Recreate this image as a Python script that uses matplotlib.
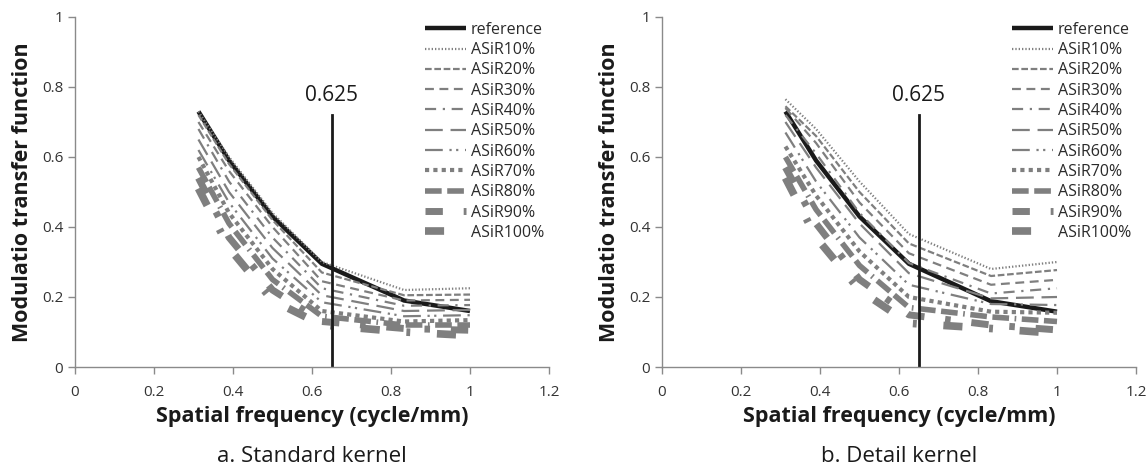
import matplotlib
matplotlib.use("Agg")
import matplotlib.pyplot as plt

plt.rcParams['font.family'] = ['Open Sans', 'DejaVu Sans']

freq = [0.3125, 0.39, 0.5, 0.625, 0.833, 1.0]
series_names = ["reference", "ASiR10%", "ASiR20%", "ASiR30%", "ASiR40%", "ASiR50%",
                "ASiR60%", "ASiR70%", "ASiR80%", "ASiR90%", "ASiR100%"]

standard_ref = [0.73, 0.59, 0.43, 0.295, 0.19, 0.16]
standard_10 = [0.73, 0.60, 0.44, 0.30, 0.22, 0.225]
standard_20 = [0.72, 0.58, 0.42, 0.27, 0.205, 0.207]
standard_30 = [0.70, 0.56, 0.40, 0.245, 0.19, 0.192]
standard_40 = [0.68, 0.53, 0.37, 0.225, 0.175, 0.177]
standard_50 = [0.65, 0.50, 0.34, 0.205, 0.16, 0.163]
standard_60 = [0.62, 0.47, 0.31, 0.185, 0.145, 0.148]
standard_70 = [0.60, 0.44, 0.28, 0.16, 0.13, 0.134]
standard_80 = [0.57, 0.41, 0.25, 0.145, 0.12, 0.12]
standard_90 = [0.54, 0.37, 0.22, 0.13, 0.11, 0.105]
standard_100 = [0.51, 0.34, 0.19, 0.12, 0.10, 0.09]

detail_ref = [0.73, 0.59, 0.43, 0.295, 0.188, 0.158]
detail_10 = [0.765, 0.68, 0.53, 0.38, 0.28, 0.30]
detail_20 = [0.745, 0.66, 0.50, 0.353, 0.26, 0.277]
detail_30 = [0.74, 0.64, 0.47, 0.325, 0.235, 0.249]
detail_40 = [0.72, 0.61, 0.44, 0.297, 0.21, 0.225]
detail_50 = [0.70, 0.57, 0.41, 0.268, 0.196, 0.20]
detail_60 = [0.67, 0.53, 0.37, 0.235, 0.18, 0.177]
detail_70 = [0.63, 0.49, 0.33, 0.20, 0.158, 0.155]
detail_80 = [0.60, 0.45, 0.29, 0.17, 0.143, 0.13]
detail_90 = [0.57, 0.41, 0.25, 0.149, 0.12, 0.106]
detail_100 = [0.54, 0.37, 0.22, 0.125, 0.11, 0.096]

standard = [standard_ref, standard_10, standard_20, standard_30, standard_40, standard_50,
            standard_60, standard_70, standard_80, standard_90, standard_100]
detail = [detail_ref, detail_10, detail_20, detail_30, detail_40, detail_50,
          detail_60, detail_70, detail_80, detail_90, detail_100]

marker_x = 0.65
marker_label = "0.625"
x_ticks = [0, 0.2, 0.4, 0.6, 0.8, 1, 1.2]
y_ticks = [0, 0.2, 0.4, 0.6, 0.8, 1]
x_ticklabels = ["0", "0.2", "0.4", "0.6", "0.8", "1", "1.2"]
y_ticklabels = ["0", "0.2", "0.4", "0.6", "0.8", "1"]
titles = ["a. Standard kernel", "b. Detail kernel"]

gray = "#7f7f7f"
styles = [
    dict(color="#1a1a1a", lw=3.2, ls="-"),
    dict(color=gray, lw=1.6, ls=(0, (0.6, 0.9))),
    dict(color=gray, lw=1.6, ls=(0, (3, 1.2))),
    dict(color=gray, lw=1.6, ls=(0, (4, 2.5))),
    dict(color=gray, lw=1.6, ls=(0, (5, 3, 1, 3))),
    dict(color=gray, lw=1.6, ls=(0, (8, 3.5))),
    dict(color=gray, lw=1.6, ls=(0, (8, 3, 1, 2, 1, 3))),
    dict(color=gray, lw=3.0, ls=(0, (1, 1))),
    dict(color=gray, lw=4.0, ls=(0, (3, 1, 3, 1, 0.3, 1))),
    dict(color=gray, lw=5.0, ls=(0, (2.5, 3, 0.8, 3))),
    dict(color=gray, lw=5.5, ls=(0, (2.5, 3.5, 0.5, 3.5))),
]

fig = plt.figure(figsize=(11.48, 4.69), dpi=100)
ax_pos = [[75 / 1148, 102 / 469, 474 / 1148, 350 / 469],
          [662 / 1148, 102 / 469, 474 / 1148, 350 / 469]]

for k, data in enumerate([standard, detail]):
    ax = fig.add_axes(ax_pos[k])
    handles = []
    for name, vals, st in zip(series_names, data, styles):
        h, = ax.plot(freq, vals, label=name, solid_capstyle='butt', dash_capstyle='butt', **st)
        handles.append(h)
    ax.plot([marker_x, marker_x], [0, 0.72], color="#1a1a1a", lw=2)
    ax.text(marker_x, 0.745, marker_label, ha="center", va="bottom", fontsize=15, color="#1a1a1a")
    ax.set_xlim(0, 1.2)
    ax.set_ylim(0, 1)
    ax.set_xticks(x_ticks)
    ax.set_xticklabels(x_ticklabels)
    ax.set_yticks(y_ticks)
    ax.set_yticklabels(y_ticklabels)
    for s in ["top", "right"]:
        ax.spines[s].set_visible(False)
    for s in ["left", "bottom"]:
        ax.spines[s].set_color("#8a8a8a")
        ax.spines[s].set_linewidth(1.0)
    ax.tick_params(axis="both", colors="#8a8a8a", labelcolor="#333333", labelsize=11,
                   length=5, width=1, direction="out")
    ax.tick_params(axis="x", pad=8)
    ax.set_xlabel("Spatial frequency (cycle/mm)", fontsize=15.5, fontweight="bold",
                  color="#1a1a1a", labelpad=4)
    ax.set_ylabel("Modulatio transfer function", fontsize=15.5, fontweight="bold",
                  color="#1a1a1a", labelpad=6)
    leg = ax.legend(handles=handles, loc="upper right", bbox_to_anchor=(1.0, 1.0),
                    frameon=False, fontsize=11.5, handlelength=2.6, handletextpad=0.3,
                    labelspacing=0.27, borderaxespad=0.0, borderpad=0.3)
    for t in leg.get_texts():
        t.set_color("#2a2a2a")
    ax.text(0.5, -0.225, titles[k], transform=ax.transAxes, ha="center", va="top",
            fontsize=16, color="#1a1a1a")

fig.savefig("out.png", dpi=100)
